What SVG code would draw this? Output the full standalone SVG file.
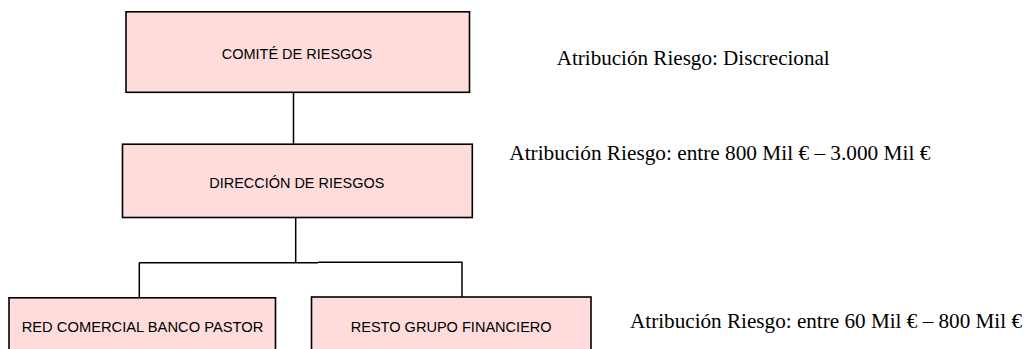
<svg xmlns="http://www.w3.org/2000/svg" width="1026" height="349" viewBox="0 0 1026 349">
<style>
.box{fill:#FFDCDC;stroke:#000;stroke-width:1.6}
.bt{font-family:"Liberation Sans",Arial,sans-serif;font-size:15px;fill:#000}
.nt{font-family:"Liberation Serif","Times New Roman",serif;font-size:21px;fill:#000}
.ln{stroke:#000;stroke-width:1.5;fill:none}
</style>
<rect width="1026" height="349" fill="#fff"/>
<g id="connectors">
<line class="ln" x1="293.5" y1="93" x2="293.5" y2="144"/>
<line class="ln" x1="295.7" y1="218" x2="295.7" y2="262.7"/>
<line class="ln" x1="139" y1="262.7" x2="318" y2="262.7"/>
<line class="ln" x1="318" y1="262.2" x2="462.5" y2="262.2"/>
<line class="ln" x1="139.3" y1="262.7" x2="139.3" y2="297.5"/>
<line class="ln" x1="462" y1="262.2" x2="462" y2="297"/>
</g>
<g id="comite">
<rect class="box" x="126" y="11.8" width="343.5" height="80.5"/>
<text class="bt" x="221.7" y="59" textLength="150.6" lengthAdjust="spacingAndGlyphs">COMITÉ DE RIESGOS</text>
</g>
<g id="direccion">
<rect class="box" x="122.5" y="144.2" width="349.8" height="73.3"/>
<text class="bt" x="209.3" y="187.5" textLength="175" lengthAdjust="spacingAndGlyphs">DIRECCIÓN DE RIESGOS</text>
</g>
<g id="red">
<rect class="box" x="9" y="297.8" width="266.5" height="60"/>
<text class="bt" x="21.7" y="331.5" textLength="241.6" lengthAdjust="spacingAndGlyphs">RED COMERCIAL BANCO PASTOR</text>
</g>
<g id="resto">
<rect class="box" x="311.5" y="297" width="279.5" height="60"/>
<text class="bt" x="350.7" y="331.5" textLength="201" lengthAdjust="spacingAndGlyphs">RESTO GRUPO FINANCIERO</text>
</g>
<g id="notes">
<text class="nt" x="556.7" y="65" textLength="273" lengthAdjust="spacingAndGlyphs">Atribución Riesgo: Discrecional</text>
<text class="nt" x="509.3" y="160" textLength="421" lengthAdjust="spacingAndGlyphs">Atribución Riesgo: entre 800 Mil € – 3.000 Mil €</text>
<text class="nt" x="630" y="328.3" textLength="392" lengthAdjust="spacingAndGlyphs">Atribución Riesgo: entre 60 Mil € – 800 Mil €</text>
</g>
</svg>
